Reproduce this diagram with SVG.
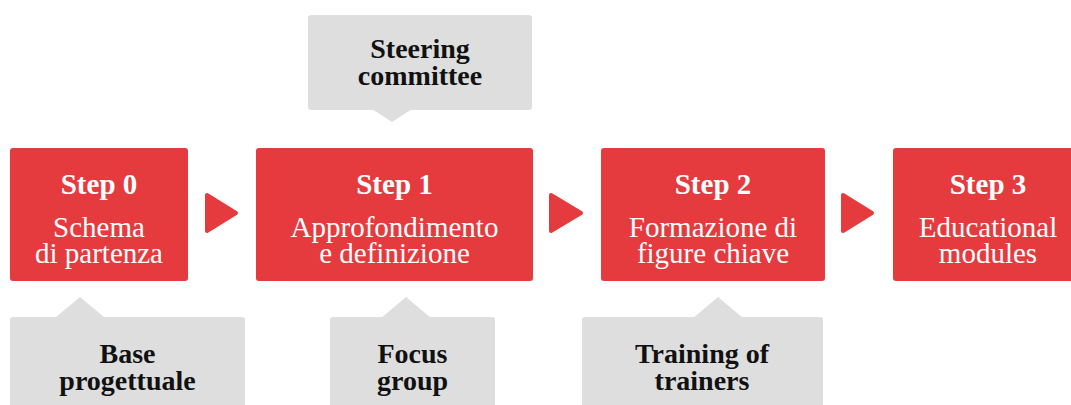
<svg xmlns="http://www.w3.org/2000/svg" width="1071" height="405" viewBox="0 0 1071 405">
<style>
.step{fill:#E53B3E}
.call{fill:#DEDEDE}
.arr{fill:#E53B3E;stroke:#E53B3E;stroke-width:4;stroke-linejoin:round}
text{font-family:"Liberation Serif","Times New Roman",serif;text-anchor:middle}
.h{font-size:29px;font-weight:bold;fill:#fff}
.b{font-size:29px;fill:#fff}
.c{font-size:28px;font-weight:bold;fill:#111}
</style>
<rect width="1071" height="405" fill="#fff"/>
<g id="connectors">
<polygon class="arr" points="207,195 207,231 236,213"/>
<polygon class="arr" points="551,195 551,231 581,213"/>
<polygon class="arr" points="843,195 843,231 872,213"/>
</g>
<g id="step0">
<rect class="step" x="10" y="148" width="178" height="133" rx="3"/>
<text class="h" x="99" y="194">Step 0</text>
<text class="b" x="99" y="237">Schema</text>
<text class="b" x="99" y="263">di partenza</text>
</g>
<g id="step1">
<rect class="step" x="256" y="148" width="277" height="133" rx="3"/>
<text class="h" x="394.5" y="194">Step 1</text>
<text class="b" x="394.5" y="237">Approfondimento</text>
<text class="b" x="394.5" y="263">e definizione</text>
</g>
<g id="step2">
<rect class="step" x="601" y="148" width="224" height="133" rx="3"/>
<text class="h" x="713" y="194">Step 2</text>
<text class="b" x="713" y="237">Formazione di</text>
<text class="b" x="713" y="263">figure chiave</text>
</g>
<g id="step3">
<rect class="step" x="893" y="148" width="190" height="133" rx="3"/>
<text class="h" x="988" y="194">Step 3</text>
<text class="b" x="988" y="237">Educational</text>
<text class="b" x="988" y="263">modules</text>
</g>
<g id="steering">
<rect class="call" x="308" y="15" width="224" height="95" rx="3"/>
<polygon class="call" points="372,109 412,109 392,122"/>
<text class="c" x="420" y="58">Steering</text>
<text class="c" x="420" y="85">committee</text>
</g>
<g id="base">
<rect class="call" x="10" y="317" width="235" height="100" rx="3"/>
<polygon class="call" points="55,318 105,318 80,297"/>
<text class="c" x="127.5" y="363">Base</text>
<text class="c" x="127.5" y="390">progettuale</text>
</g>
<g id="focus">
<rect class="call" x="330" y="317" width="165" height="100" rx="3"/>
<polygon class="call" points="381,318 431,318 406,297"/>
<text class="c" x="412.5" y="363">Focus</text>
<text class="c" x="412.5" y="390">group</text>
</g>
<g id="training">
<rect class="call" x="582" y="317" width="241" height="100" rx="3"/>
<polygon class="call" points="693,318 743,318 718,297"/>
<text class="c" x="702" y="363">Training of</text>
<text class="c" x="702" y="390">trainers</text>
</g>
</svg>
